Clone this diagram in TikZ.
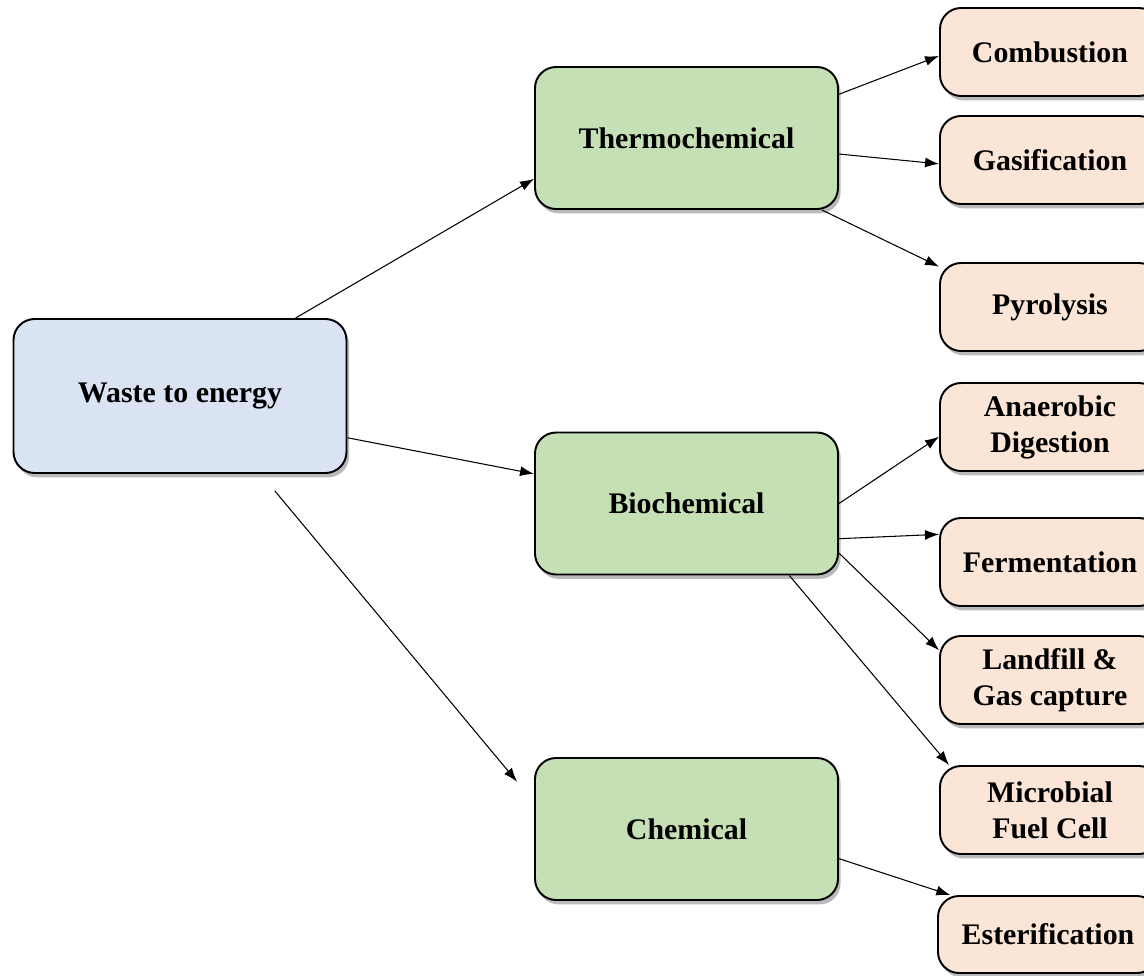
\documentclass[tikz,border=0pt]{standalone}
\usepackage{fontspec}
\setmainfont{Liberation Serif}
\usepackage{xcolor}
\usepackage{tikz}
\usetikzlibrary{arrows.meta, shadows, positioning, calc}
\definecolor{rootblue}{RGB}{218, 227, 243}
\definecolor{routegreen}{RGB}{197, 224, 180}
\definecolor{techpeach}{RGB}{251, 229, 214}

\tikzset{
    box/.style={draw=black, line width=1.1pt, rounded corners=12pt, align=center,
        font=\fontsize{17}{20.5}\selectfont\bfseries,
        drop shadow={shadow xshift=1.5pt, shadow yshift=-2.5pt, opacity=.45, fill=black!60}},
    rootbox/.style={box, fill=rootblue, minimum width=6.66cm, minimum height=3.08cm},
    routebox/.style={box, fill=routegreen, minimum width=6.06cm, minimum height=2.84cm},
    techbox/.style={box, fill=techpeach, minimum width=4.4cm, minimum height=1.76cm},
    link/.style={-{Latex[length=2.8mm, width=2mm]}, line width=0.6pt}
}

\begin{document}
\begin{tikzpicture}
        \useasboundingbox (0, 0) rectangle (22.88, -19.5);
        \clip (0, 0) rectangle (22.88, -19.5);

        % Root
        \node[rootbox] (waste) at (3.6, -7.92) {Waste to energy};

        % Conversion routes
        \node[routebox] (thermo) at (13.73, -2.76) {Thermochemical};
        \node[routebox] (bio) at (13.73, -10.07) {Biochemical};
        \node[routebox] (chem) at (13.73, -16.58) {Chemical};

        % Technologies
        \node[techbox] (comb) at (21.0, -1.04) {Combustion};
        \node[techbox] (gasif) at (21.0, -3.2) {Gasification};
        \node[techbox] (pyro) at (21.0, -6.14) {Pyrolysis};
        \node[techbox] (anaer) at (21.0, -8.54) {Anaerobic\\Digestion};
        \node[techbox] (ferm) at (21.0, -11.24) {Fermentation};
        \node[techbox] (landf) at (21.0, -13.6) {Landfill \&\\Gas capture};
        \node[techbox] (mfc) at (21.0, -16.2) {Microbial\\Fuel Cell};
        \node[techbox, minimum height=1.54cm] (ester) at (20.96, -18.69) {Esterification};

        % Root to routes
        \draw[link] (waste.34) -- (thermo.195);
        \draw[link] (waste.-14) -- (bio.169);
        \draw[link, shorten <=0.44cm, shorten >=0.53cm] (waste.-44) -- (chem.170);

        % Routes to technologies
        \draw[link] (thermo.16) -- (comb.182);
        \draw[link] (thermo.-6) -- (gasif.182);
        \draw[link] (thermo.-28) -- (pyro.160);
        \draw[link] (bio.0) -- (anaer.185);
        \draw[link] (bio.-13.5) -- (ferm.166);
        \draw[link] (bio.-18) -- (landf.165);
        \draw[link] (bio.-35) -- (mfc.156);
        \draw[link] (chem.-11) -- (ester.158);
    \end{tikzpicture}
\end{document}
